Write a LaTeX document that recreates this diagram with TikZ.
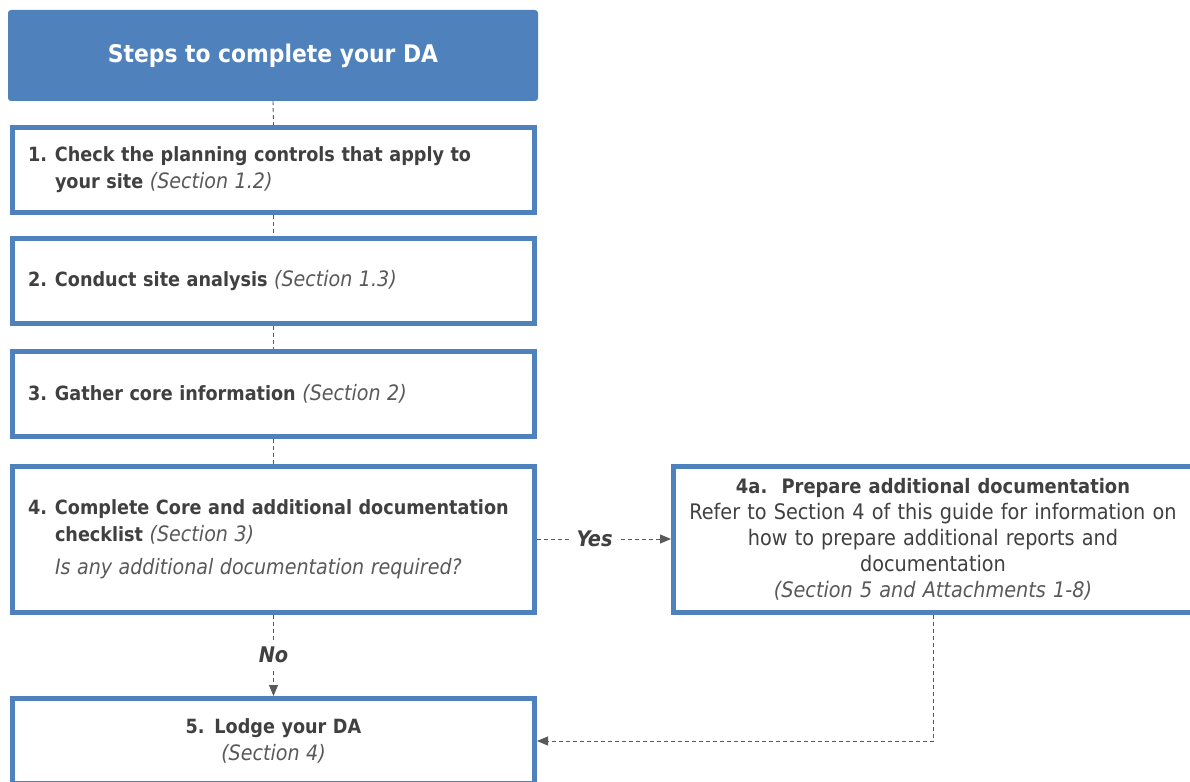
\documentclass[tikz,border=0pt]{standalone}
\usepackage{fontspec}
\setmainfont{DejaVu Sans Condensed}
\usetikzlibrary{arrows.meta}
\definecolor{dablue}{HTML}{4F81BD}
\definecolor{datext}{HTML}{404040}
\definecolor{dasoft}{HTML}{595959}
\definecolor{daline}{HTML}{595959}
\newcommand{\secref}[1]{{\mdseries\itshape\fontsize{21.2}{27}\selectfont\color{dasoft}#1}}

\begin{document}
\begin{tikzpicture}[x=1pt,y=-1pt,
	titlebox/.style={fill=dablue,rounded corners=3pt,minimum width=530pt,minimum height=91pt,
		text=white,font=\bfseries\fontsize{24.3}{27}\selectfont},
	stepbox/.style={draw=dablue,line width=5pt,fill=white,minimum width=522pt,minimum height=85pt,
		inner xsep=15.5pt,inner ysep=0pt,text width=491pt,align=left,text=datext,
		font=\bfseries\fontsize{19.6}{27}\selectfont},
	sidebox/.style={stepbox,minimum width=519pt,minimum height=146pt,inner xsep=9.5pt,text width=500pt,align=center,
		font=\fontsize{21.4}{26}\selectfont},
	link/.style={draw=daline,line width=0.9pt,dash pattern=on 4pt off 3pt},
	tip/.style={-{Triangle[length=11pt,width=9pt]}},
	answer/.style={fill=white,inner sep=6pt,text=datext,font=\bfseries\itshape\fontsize{21.5}{22}\selectfont}]
	\useasboundingbox (0,0) rectangle (1190,781);

	% the steps
	\node[titlebox] (title) at (273,55.5) {Steps to complete your DA};
	\node[stepbox] (step1) at (273.5,170) {\makebox[27pt][l]{1.}Check the planning controls that apply to\\
		\hspace*{27pt}your site \secref{(Section 1.2)}};
	\node[stepbox] (step2) at (273.5,281) {\makebox[27pt][l]{2.}Conduct site analysis \secref{(Section 1.3)}};
	\node[stepbox] (step3) at (273.5,394) {\makebox[27pt][l]{3.}Gather core information \secref{(Section 2)}};
	\node[stepbox,minimum height=146pt] (step4) at (273.5,539) {\makebox[27pt][l]{4.}Complete Core and additional documentation\\
		\hspace*{27pt}checklist \secref{(Section 3)}\\[6pt]
		\hspace*{27pt}\secref{Is any additional documentation required?}};
	\node[sidebox] (step4a) at (933,539) {{\bfseries\fontsize{19.9}{26}\selectfont 4a.\ \ Prepare additional documentation}\\
		Refer to Section 4 of this guide for information on\\
		how to prepare additional reports and\\
		documentation\\
		{\itshape\color{dasoft}(Section 5 and Attachments 1-8)}};
	\node[stepbox,align=center] (step5) at (273.5,741) {5. Lodge your DA\\
		\secref{(Section 4)}};

	% links
	\draw[link] (title.south) -- (step1.north);
	\draw[link] (step1.south) -- (step2.north);
	\draw[link] (step2.south) -- (step3.north);
	\draw[link] (step3.south) -- (step4.north);
	\draw[link,tip] (step4.south) -- node[answer] {No} (step5.north);
	\draw[link,tip] (step4.east) -- node[answer,pos=0.43] {Yes} (step4a.west);
	\draw[link,tip] (step4a.south) |- (step5.east);
\end{tikzpicture}
\end{document}
